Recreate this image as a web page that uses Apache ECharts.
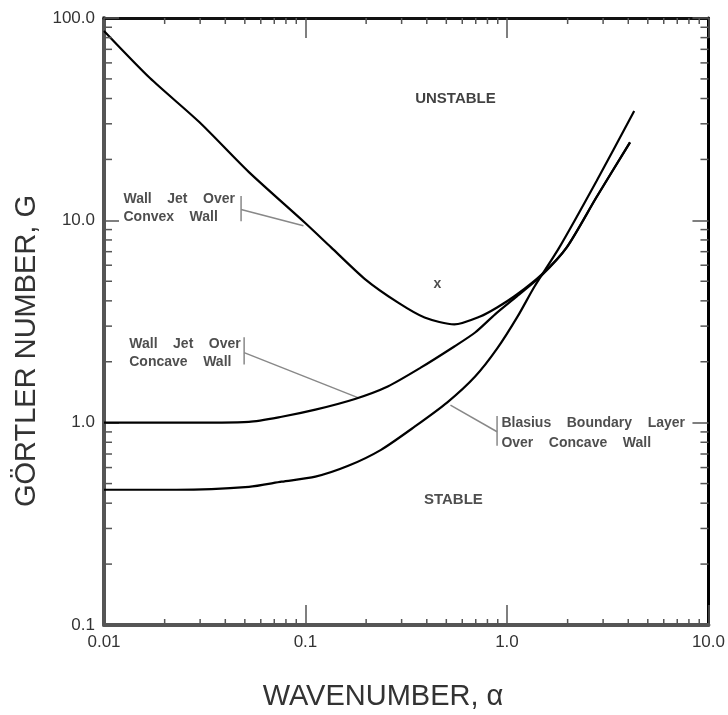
<!DOCTYPE html>
<html>
<head>
<meta charset="utf-8">
<title>Görtler number vs wavenumber</title>
<script src="https://cdn.jsdelivr.net/npm/echarts@6/dist/echarts.min.js"></script>
<style>
  html, body { margin: 0; padding: 0; background: #fff; }
  #chart { width: 728px; height: 715px; }
</style>
</head>
<body>
<div id="chart"></div>
<script>
// axis ticks
var xTickValues = [0.01, 0.1, 1, 10];
var xTickLabels = ['0.01', '0.1', '1.0', '10.0'];
var yTickValues = [0.1, 1, 10, 100];
var yTickLabels = ['0.1', '1.0', '10.0', '100.0'];

// wall jet over convex wall
var convexAlpha = [0.01, 0.0169, 0.0297, 0.0524, 0.1, 0.134, 0.198, 0.287, 0.390, 0.548, 0.736, 0.893, 1.12, 1.49, 1.98, 2.78, 4.08];
var convexG     = [86.3, 50.5, 30.6, 17.3, 9.67, 7.35, 5.11, 3.93, 3.31, 3.06, 3.35, 3.71, 4.30, 5.41, 7.35, 13.0, 24.3];

// wall jet over concave wall
var concaveAlpha = [0.01, 0.0229, 0.0524, 0.0762, 0.112, 0.176, 0.256, 0.373, 0.548, 0.695, 0.873, 1.12, 1.49, 1.98, 2.78, 4.08];
var concaveG     = [1.0, 1.0, 1.01, 1.07, 1.16, 1.31, 1.51, 1.87, 2.38, 2.79, 3.43, 4.21, 5.35, 7.35, 13.0, 24.3];

// blasius boundary layer over concave wall
var blasiusAlpha = [0.01, 0.0229, 0.0524, 0.0762, 0.112, 0.163, 0.237, 0.348, 0.506, 0.695, 0.893, 1.13, 1.37, 1.82, 2.78, 4.28];
var blasiusG     = [0.466, 0.466, 0.482, 0.511, 0.541, 0.612, 0.734, 0.955, 1.26, 1.69, 2.32, 3.35, 4.71, 7.35, 15.6, 34.7];

// experimental point
var markAlpha = [0.452];
var markG = [4.82];

function zip(a, b) {
  var res = [];
  for (var i = 0; i < a.length; i++) res.push([a[i], b[i]]);
  return res;
}

function tickLabel(values, labels) {
  return function (v) {
    var e = Math.round(Math.log10(v));
    for (var i = 0; i < values.length; i++) {
      if (Math.round(Math.log10(values[i])) === e) return labels[i];
    }
    return '';
  };
}

// minor ticks 2..9 in each decade
function minorTicks(lo, hi) {
  var res = [];
  for (var d = lo; d < hi; d++) {
    for (var k = 2; k <= 9; k++) res.push(k * Math.pow(10, d));
  }
  return res;
}
var xMinor = minorTicks(-2, 1);
var yMinor = minorTicks(-1, 2);

var myChart = echarts.init(document.getElementById('chart'));

var font = '"Liberation Sans", Arial, sans-serif';
var curveStyle = { color: '#000', width: 2.2 };
var leaderStyle = { color: '#888', width: 1.5 };

function curve(name, data) {
  return {
    name: name, type: 'line', data: data,
    showSymbol: false, smooth: 0.25,
    lineStyle: curveStyle, silent: true, z: 3
  };
}

function seg(data) {
  return {
    type: 'line', data: data, showSymbol: false,
    lineStyle: leaderStyle, silent: true, z: 2
  };
}

function note(point, text, opts) {
  return {
    type: 'scatter', data: [point], symbolSize: 1, silent: true,
    itemStyle: { color: 'rgba(0,0,0,0)' },
    label: Object.assign({
      show: true, formatter: text, position: 'right', distance: 0,
      color: '#222', fontFamily: font, fontSize: 14, fontWeight: 'bold', lineHeight: 18
    }, opts || {})
  };
}

function minorSeries(values, isX) {
  return {
    type: 'custom', silent: true, clip: false, z: 5,
    data: values.map(function (v) { return isX ? [v, 1] : [1, v]; }),
    renderItem: function (params, api) {
      var cs = params.coordSys;
      var p = api.coord([api.value(0), api.value(1)]);
      var st = { stroke: '#555', lineWidth: 1.5 };
      if (isX) {
        var x = p[0], b = cs.y + cs.height, t = cs.y;
        return { type: 'group', children: [
          { type: 'line', shape: { x1: x, y1: b, x2: x, y2: b - 6 }, style: st },
          { type: 'line', shape: { x1: x, y1: t, x2: x, y2: t + 6 }, style: st }
        ] };
      }
      var y = p[1], l = cs.x, r = cs.x + cs.width;
      return { type: 'group', children: [
        { type: 'line', shape: { x1: l, y1: y, x2: l + 8, y2: y }, style: st },
        { type: 'line', shape: { x1: r, y1: y, x2: r - 8, y2: y }, style: st }
      ] };
    }
  };
}

var axisLabelStyle = { color: '#333', fontFamily: font, fontSize: 17 };

myChart.setOption({
  animation: false,
  backgroundColor: '#fff',
  grid: { left: 104, right: 15, top: 18, bottom: 90 },
  xAxis: [{
    type: 'log', logBase: 10, min: 0.01, max: 10,
    axisLine: { lineStyle: { color: '#555', width: 4 } },
    axisTick: { inside: true, length: 20, lineStyle: { color: '#555', width: 1.5 } },
    axisLabel: Object.assign({ margin: 9, formatter: tickLabel(xTickValues, xTickLabels) }, axisLabelStyle),
    splitLine: { show: false }
  }, {
    type: 'log', logBase: 10, min: 0.01, max: 10, position: 'top',
    axisLine: { lineStyle: { color: '#111', width: 3 } },
    axisTick: { inside: true, length: 20, lineStyle: { color: '#555', width: 1.5 } },
    axisLabel: { show: false },
    splitLine: { show: false }
  }],
  yAxis: [{
    type: 'log', logBase: 10, min: 0.1, max: 100,
    axisLine: { lineStyle: { color: '#555', width: 4 } },
    axisTick: { inside: true, length: 15, lineStyle: { color: '#555', width: 1.5 } },
    axisLabel: Object.assign({ margin: 9, formatter: tickLabel(yTickValues, yTickLabels) }, axisLabelStyle),
    splitLine: { show: false }
  }, {
    type: 'log', logBase: 10, min: 0.1, max: 100, position: 'right',
    axisLine: { lineStyle: { color: '#000', width: 3 } },
    axisTick: { inside: true, length: 16, lineStyle: { color: '#555', width: 1.5 } },
    axisLabel: { show: false },
    splitLine: { show: false }
  }],
  graphic: [{
    type: 'text', x: 383, y: 697,
    style: { text: 'WAVENUMBER, α', font: '29px ' + font, fill: '#333', align: 'center', verticalAlign: 'middle' }
  }, {
    type: 'text', x: 27, y: 351, rotation: Math.PI / 2,
    style: { text: 'GÖRTLER NUMBER, G', font: '29px ' + font, fill: '#333', align: 'center', verticalAlign: 'middle' }
  }],
  series: [
    curve('Wall Jet Over Convex Wall', zip(convexAlpha, convexG)),
    curve('Wall Jet Over Concave Wall', zip(concaveAlpha, concaveG)),
    curve('Blasius Boundary Layer Over Concave Wall', zip(blasiusAlpha, blasiusG)),

    // brackets and leader lines
    seg([[0.0479, 13.2], [0.0479, 9.89]]),
    seg([[0.0479, 11.3], [0.0977, 9.4]]),
    seg([[0.0496, 2.64], [0.0496, 1.94]]),
    seg([[0.0496, 2.22], [0.182, 1.33]]),
    seg([[0.893, 1.08], [0.893, 0.77]]),
    seg([[0.893, 0.902], [0.524, 1.22]]),

    note([0.01242, 11.5], 'Wall    Jet    Over\nConvex    Wall'),
    note([0.01327, 2.20], 'Wall    Jet    Over\nConcave    Wall'),
    note([0.933, 0.891], 'Blasius    Boundary    Layer\nOver    Concave    Wall', { lineHeight: 20 }),
    note([0.555, 39.7], 'UNSTABLE', { position: 'inside', fontSize: 15, color: '#111' }),
    note([0.542, 0.416], 'STABLE', { position: 'inside', fontSize: 15, color: '#222' }),
    note(zip(markAlpha, markG)[0], 'x', { position: 'inside', fontSize: 14 }),

    minorSeries(xMinor, true),
    minorSeries(yMinor, false)
  ]
});

window.addEventListener('resize', function () {
  myChart.resize();
});
</script>
</body>
</html>
